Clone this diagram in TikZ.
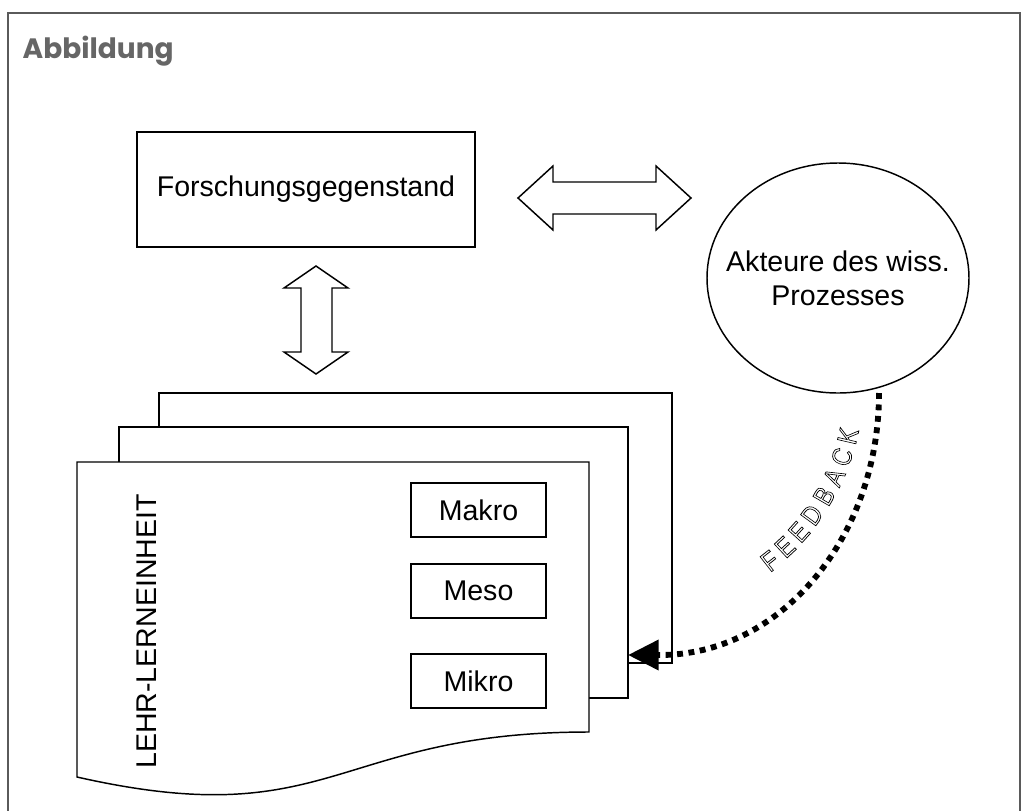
\documentclass[tikz,border=0pt]{standalone}
\usepackage{fontspec}
\setmainfont{Liberation Sans}
\newfontfamily\titlefont{Poppins}
\usetikzlibrary{shapes.geometric,arrows.meta}
\definecolor{framegray}{HTML}{5A5A5A}
\definecolor{titlegray}{HTML}{666666}
\newcommand{\outlinetext}[1]{\scalebox{0.85}[1]{\special{pdf:literal direct 1 Tr 0.55 w}#1\special{pdf:literal direct 0 Tr}}}
\begin{document}
\begin{tikzpicture}[x=0.75pt,y=-0.75pt,
  line width=1.1pt,
  lbl/.style={font=\fontsize{21.4}{25.5}\selectfont},
  boxnode/.style={draw,fill=white,inner sep=0pt,outer sep=0pt,lbl},
  levelbox/.style={boxnode,minimum width=101.25pt,minimum height=40.5pt},
  pagesheet/.style={draw,fill=white,line join=miter},
  blockarrow/.style={draw,fill=white,line join=miter},
  fbline/.style={line width=4.4pt,dash pattern=on 4.4pt off 4.2pt},
  fbletter/.style={font=\fontsize{20.5}{20.5}\selectfont,inner sep=0pt}
]
\useasboundingbox (0,0) rectangle (1029,811);
\fill[white] (0,0) rectangle (1029,811);
\draw[framegray,line width=1.5pt] (8,815) -- (8,13) -- (1020,13) -- (1020,815);
\node[anchor=base west,text=titlegray,inner sep=0pt,font=\titlefont\bfseries\fontsize{21}{25}\selectfont] (title) at (22,58) {Abbildung};

% research object
\node[boxnode,minimum width=253.5pt,minimum height=86.25pt] (fg) at (306,189.5) {Forschungsgegenstand};

% actors
\node[draw,ellipse,minimum width=196.5pt,minimum height=172.5pt,inner sep=0pt] (akt) at (838,278) {};
\node[lbl,align=center,inner sep=0pt] (akttext) at (akt.center) {Akteure des wiss.\\Prozesses};

% block arrows
\draw[blockarrow] (518,198) -- (553,166) -- (553,182) -- (656,182) -- (656,166) -- (691,198) -- (656,230) -- (656,214) -- (553,214) -- (553,230) -- cycle;
\draw[blockarrow] (316,266) -- (348,288) -- (332,288) -- (332,352) -- (348,352) -- (316,374) -- (284,352) -- (301,352) -- (301,288) -- (284,288) -- cycle;

% stacked pages
\draw[pagesheet] (159,393) rectangle (672,663);
\draw[pagesheet] (119,427) rectangle (628,698);
\draw[pagesheet] (77,462) -- (589,462) -- (589,732) .. controls (333,732) and (333,835) .. (77,777) -- cycle;

\node[lbl,rotate=90,inner sep=0pt] (lehr) at (146.5,631.5) {LEHR-LERNEINHEIT};

\node[levelbox] (makro) at (478.5,510) {Makro};
\node[levelbox] (meso) at (478.5,591) {Meso};
\node[levelbox] (mikro) at (478.5,681) {Mikro};

% feedback
\coordinate (fbstart) at (879,393);
\coordinate (fbend) at (628,655);
\draw[fbline,-{Triangle[length=23pt,width=22pt]}] (fbstart) .. controls (879,537) and (781,655) .. (660,655) -- (fbend);

\node[fbletter,rotate=38] (l1) at (770,561) {\outlinetext{F}};
\node[fbletter,rotate=43] (l2) at (785,547) {\outlinetext{E}};
\node[fbletter,rotate=48] (l3) at (799,532) {\outlinetext{E}};
\node[fbletter,rotate=54] (l4) at (812,515) {\outlinetext{D}};
\node[fbletter,rotate=60] (l5) at (824,496) {\outlinetext{B}};
\node[fbletter,rotate=65] (l6) at (834,477) {\outlinetext{A}};
\node[fbletter,rotate=71] (l7) at (842,457) {\outlinetext{C}};
\node[fbletter,rotate=77] (l8) at (848,436) {\outlinetext{K}};
\end{tikzpicture}
\end{document}
